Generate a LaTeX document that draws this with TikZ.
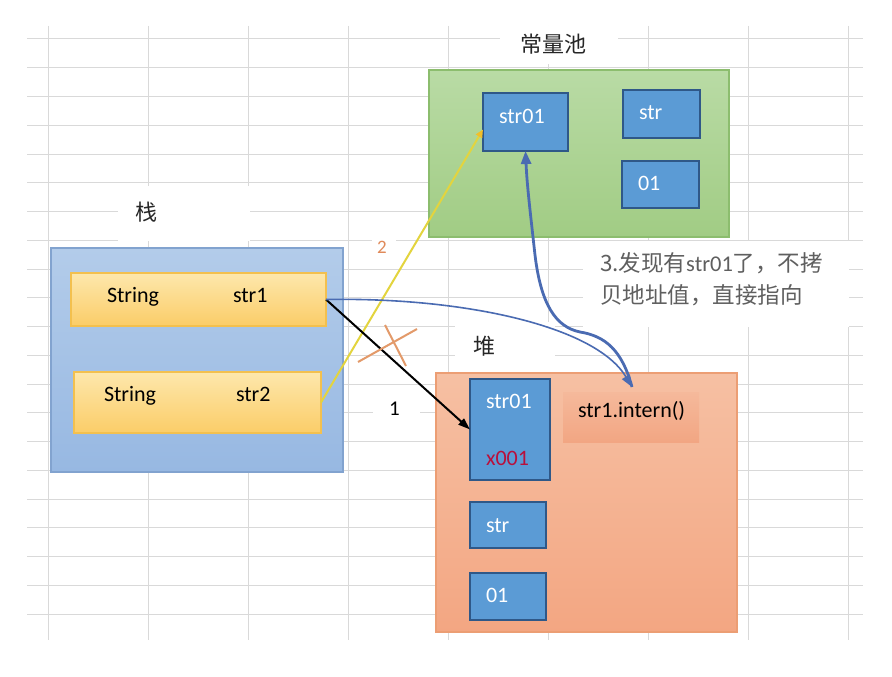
\documentclass[tikz,border=0pt]{standalone}
\usepackage{fontspec}
\setmainfont{Carlito}
\newfontfamily\cjk{Noto Sans CJK SC}
\usetikzlibrary{arrows.meta}
\definecolor{gridc}{HTML}{D9D9D9}
\definecolor{stacktop}{HTML}{B3CCEA}
\definecolor{stackbot}{HTML}{97B8E2}
\definecolor{stackbd}{HTML}{82A3CF}
\definecolor{yeltop}{HTML}{FDE7AC}
\definecolor{yelbot}{HTML}{FBCD68}
\definecolor{yelbd}{HTML}{F3C04E}
\definecolor{grtop}{HTML}{B9DBA5}
\definecolor{grbot}{HTML}{A1CC84}
\definecolor{grbd}{HTML}{8CBD6E}
\definecolor{heaptop}{HTML}{F6C0A3}
\definecolor{heapbot}{HTML}{F3A682}
\definecolor{heapbd}{HTML}{EC9E74}
\definecolor{inttop}{HTML}{F5B99B}
\definecolor{intbot}{HTML}{F2A683}
\definecolor{bluefill}{HTML}{5B9BD5}
\definecolor{bluebd}{HTML}{2F5888}
\definecolor{arrowblue}{HTML}{4A6BB2}
\definecolor{yline}{HTML}{E3D43E}
\definecolor{ytip}{HTML}{F2BF2A}
\definecolor{xmarkc}{HTML}{E39A6A}
\definecolor{lbltwo}{HTML}{E08A5A}
\definecolor{expl}{HTML}{5F5F5F}
\definecolor{redtxt}{HTML}{B8103C}
\tikzset{
  gridline/.style={draw=gridc, line width=1},
  box/.style={inner sep=0, outer sep=0, line width=1.2},
  stackbox/.style={box, draw=stackbd, top color=stacktop, bottom color=stackbot},
  yelbox/.style={box, draw=yelbd, top color=yeltop, bottom color=yelbot},
  poolbox/.style={box, draw=grbd, top color=grtop, bottom color=grbot},
  heapbox/.style={box, draw=heapbd, top color=heaptop, bottom color=heapbot},
  intbox/.style={box, top color=inttop, bottom color=intbot},
  bluebox/.style={box, draw=bluebd, fill=bluefill, line width=2},
  txt/.style={anchor=base west, inner sep=0, outer sep=0, font=\fontsize{22}{26}\selectfont},
  wtxt/.style={txt, text=white},
  cjktxt/.style={anchor=base west, inner sep=0, outer sep=0, font=\cjk\fontsize{22}{26}\selectfont, text=black!85},
  blackarrow/.style={draw=black, line width=2, -{Triangle[length=12,width=8]}},
  yellowline/.style={draw=yline, line width=2, -{Triangle[length=8,width=7,color=ytip]}},
  bluethin/.style={draw=arrowblue, line width=1.6, -{Triangle[length=12,width=9]}},
  bluethick/.style={draw=arrowblue, line width=2.8, -{Triangle[length=13,width=10]}},
  xmark/.style={draw=xmarkc, line width=2},
}
\begin{document}
\begin{tikzpicture}[x=1pt,y=-1pt]
\useasboundingbox (0,0) rectangle (892,677);
\fill[white] (0,0) rectangle (892,677);
% spreadsheet grid
\foreach \k in {0,...,20} \draw[gridline] (27,{39+28.75*\k}) -- (863,{39+28.75*\k});
\foreach \gx in {48,148,...,848} \draw[gridline] (\gx,26) -- (\gx,640);
% white label backgrounds
\fill[white] (500,26) rectangle (618,64);
\fill[white] (118,186) rectangle (250,241);
\fill[white] (455,322) rectangle (555,372);
\fill[white] (583,241) rectangle (849,327);
\fill[white] (372,233) rectangle (396,262);
\fill[white] (373,388) rectangle (420,428);
% stack
\node[stackbox, minimum width=292, minimum height=224] (stack) at (197,360) {};
\node[yelbox, minimum width=255, minimum height=53] (str1) at (198.5,299.5) {};
\node[yelbox, minimum width=247, minimum height=61] (str2) at (197.5,402.5) {};
\node[txt] (t1a) at (107,302) {String};
\node[txt] (t1b) at (233,302) {str1};
\node[txt] (t2a) at (104,401) {String};
\node[txt] (t2b) at (236,401) {str2};
\node[cjktxt] (lstack) at (135,220) {栈};
% constant pool
\node[poolbox, minimum width=300, minimum height=167] (pool) at (579,153.5) {};
\node[bluebox, minimum width=85, minimum height=58] (pstr01) at (525.5,122) {};
\node[bluebox, minimum width=77, minimum height=48] (pstr) at (661.5,114) {};
\node[bluebox, minimum width=77, minimum height=47] (p01) at (660.5,184.5) {};
\node[wtxt] (tp1) at (499,123) {str01};
\node[wtxt] (tp2) at (639,119) {str};
\node[wtxt] (tp3) at (638,190) {01};
\node[cjktxt] (lpool) at (520,53) {常量池};
% heap
\node[heapbox, minimum width=301, minimum height=259] (heap) at (586.5,502.5) {};
\node[intbox, minimum width=136, minimum height=50] (intbg) at (631,417) {};
\node[bluebox, minimum width=80, minimum height=101] (hstr01) at (510,429.5) {};
\node[bluebox, minimum width=76, minimum height=46] (hstr) at (508,525) {};
\node[bluebox, minimum width=76, minimum height=47] (h01) at (508,596.5) {};
\node[wtxt] (th1) at (486,408) {str01};
\node[txt, text=redtxt] (th2) at (486,465) {x001};
\node[wtxt] (th3) at (486,532) {str};
\node[wtxt] (th4) at (486,602) {01};
\node[txt] (tint) at (578,417) {str1.intern()};
\node[cjktxt] (lheap) at (473,354) {堆};
% explanation
\node[anchor=west, align=left, inner sep=0, outer sep=0, text=expl,
      font=\cjk\fontsize{22.5}{32}\selectfont] (expl) at (600,279)
      {3.发现有{\rmfamily str01}了，不拷\\贝地址值，直接指向};
% step labels
\node[anchor=base west, inner sep=0, text=lbltwo, font=\fontsize{19}{22}\selectfont] (n2) at (377,253) {2};
\node[anchor=base west, inner sep=0, font=\fontsize{21}{24}\selectfont] (n1) at (389,415) {1};
% connectors
\coordinate (ip) at (632,387);
\draw[yellowline] (str2.east) -- (pstr01.190);
\draw[blackarrow] (str1.east) -- (hstr01.west);
\draw[xmark] (358,362) -- (417,329);
\draw[xmark] (385,325) -- (406,366);
\draw[bluethin] (str1.east) .. controls (460,297) and (595,325) .. (ip);
\draw[bluethick] (ip) .. controls (622,350) and (605,336) .. (580,332)
   .. controls (556,327) and (541,305) .. (535,255)
   .. controls (530,210) and (527,185) .. (pstr01.south);
\end{tikzpicture}
\end{document}
